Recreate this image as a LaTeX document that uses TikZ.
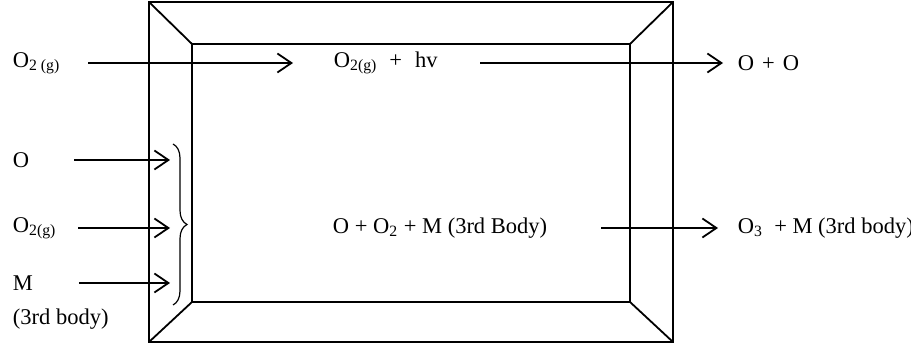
\documentclass[tikz,border=0pt]{standalone}
\usepackage{fontspec}
\setmainfont{Liberation Serif}
\usetikzlibrary{arrows.meta,positioning,decorations.pathreplacing}

\begin{document}
\begin{tikzpicture}[x=0.5pt,y=-0.5pt,>={Straight Barb[length=7pt,width=9.5pt]},
                    line width=0.9pt,
                    lbl/.style={inner sep=0pt,anchor=west,
                                font=\fontsize{11.25}{13.5}\selectfont}]
  \useasboundingbox (0,0) rectangle (911,347);

  \coordinate (ONW) at (149,2);   \coordinate (ONE) at (673,2);
  \coordinate (OSW) at (149,342); \coordinate (OSE) at (673,342);
  \coordinate (INW) at (192,44);  \coordinate (INE) at (630,44);
  \coordinate (ISW) at (192,302); \coordinate (ISE) at (630,302);

  \draw (ONW) rectangle (OSE);
  \draw (INW) rectangle (ISE);
  \draw (ONW) -- (INW) (ONE) -- (INE) (OSW) -- (ISW) (OSE) -- (ISE);

  \node[lbl] (o2g)  at (12,63)  {O\textsubscript{2 (g)}};
  \node[lbl] (inA)  at (333,63) {O\textsubscript{2(g)}\hspace{6pt}+\hspace{6.5pt}hv};
  \node[lbl] (outA) at (737,63) {O\hspace{4pt}+\hspace{4pt}O};

  \node[lbl] (lo)   at (12,160) {O};
  \node[lbl] (lo2)  at (12,228) {O\textsubscript{2(g)}};
  \node[lbl] (lm)   at (12,283) {M};
  \node[lbl] (l3rd) at (12,319) {(3rd body)};

  \node[lbl] (inB)  at (332,228) {O + O\textsubscript{2} + M (3rd Body)};
  \node[lbl] (outB) at (737,228) {O\textsubscript{3} \ + M (3rd body)};

  \coordinate (bt) at (173,144);
  \coordinate (bb) at (173,305);
  \draw[line width=0.6pt,decorate,decoration={brace,amplitude=7pt}] (bt) -- (bb);

  \draw[->,shorten <=13.5pt,shorten >=20pt] (o2g) -- (inA);
  \draw[->,shorten <=21pt,shorten >=7pt]    (inA) -- (outA);
  \draw[->,shorten <=22pt,shorten >=1.5pt]  (lo.east)  -- (lo -| bt);
  \draw[->,shorten <=10.5pt,shorten >=1.5pt](lo2.east) -- (lo2 -| bt);
  \draw[->,shorten <=22.5pt,shorten >=1.5pt](lm.east)  -- (lm -| bt);
  \draw[->,shorten <=26.5pt,shorten >=9.5pt](inB) -- (outB);
\end{tikzpicture}
\end{document}
